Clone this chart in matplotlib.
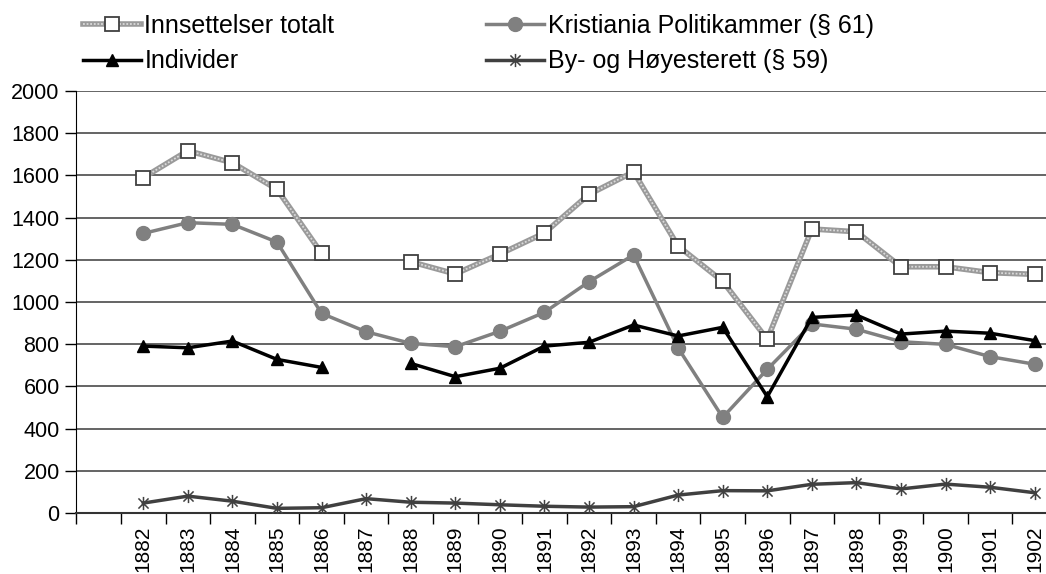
import matplotlib.pyplot as plt
import numpy as np
from matplotlib.path import Path
from matplotlib.legend_handler import HandlerTuple

plt.rcParams['font.family'] = ['Liberation Sans', 'DejaVu Sans']

years = [str(y) for y in range(1882, 1903)]
nan = np.nan
totalt = [1589, 1717, 1660, 1534, 1231, nan, 1191, 1133, 1227, 1327, 1510,
          1617, 1265, 1098, 823, 1346, 1333, 1167, 1167, 1139, 1131]
politikammer = [1325, 1376, 1368, 1284, 946, 859, 804, 788, 861, 951, 1096,
                1223, 782, 453, 681, 896, 871, 812, 799, 741, 705]
individer = [791, 783, 815, 728, 690, nan, 709, 646, 686, 791, 809,
             891, 839, 880, 551, 927, 938, 848, 862, 852, 817]
hoyesterett = [47, 80, 56, 22, 25, 68, 51, 47, 39, 32, 28,
               30, 85, 106, 105, 136, 144, 114, 137, 122, 96]

labels = ["Innsettelser totalt", "Kristiania Politikammer (§ 61)",
          "Individer", "By- og Høyesterett (§ 59)"]

# asterisk marker: X plus a vertical bar
star = Path([(-1, -1), (1, 1), (-1, 1), (1, -1), (0, -1.3), (0, 1.3)],
            [Path.MOVETO, Path.LINETO, Path.MOVETO, Path.LINETO,
             Path.MOVETO, Path.LINETO])

fig = plt.figure(figsize=(10.46, 5.74), dpi=100)
ax = fig.add_axes([76.4 / 1046, 1 - 513 / 574, 980.6 / 1046, 422 / 574])

x = np.arange(len(years))

# textured grey line for the total: grey band with a dotted light overlay
bg, = ax.plot(x, totalt, color='#9a9a9a', lw=4, zorder=3)
tex, = ax.plot(x, totalt, color='#dadada', lw=1.3, dashes=(1, 1), zorder=3)
fg, = ax.plot(x, totalt, ls='none', marker='s', ms=9.5,
              mfc='white', mec='#404040', mew=1.3, zorder=4)
pk, = ax.plot(x, politikammer, color='#808080', lw=2.5, marker='o', ms=10,
              mfc='#808080', mec='#808080', zorder=3)
ind, = ax.plot(x, individer, color='black', lw=2.5, marker='^', ms=8.5,
               mfc='black', mec='black', zorder=5)
hy, = ax.plot(x, hoyesterett, color='#404040', lw=2.5, marker=star, ms=9.5,
              mfc='none', mec='#404040', mew=1.1, zorder=3)

ax.set_xlim(-1.5, 20.5)
ax.set_ylim(0, 2000)
ax.set_yticks(np.arange(0, 2001, 200))
ax.yaxis.grid(True, color='#3a3a3a', lw=1.1)
ax.set_axisbelow(True)

ax.set_xticks(x)
ax.set_xticklabels(years, rotation=90)
ax.set_xticks(np.arange(-1.5, 20.6, 1), minor=True)
ax.tick_params(axis='x', which='major', length=0, pad=9, labelsize=15)
ax.tick_params(axis='x', which='minor', length=8, width=1, color='black')
ax.tick_params(axis='y', length=8, width=1, labelsize=15.5, pad=4)

for s in ['top', 'right']:
    ax.spines[s].set_visible(False)
ax.spines['left'].set_color('black')
ax.spines['bottom'].set_color('#333333')
ax.spines['bottom'].set_linewidth(1.5)

leg_kw = dict(frameon=False, fontsize=18, handlelength=2.3,
              handletextpad=0.16, labelspacing=0.45, borderpad=0,
              borderaxespad=0, loc='upper left',
              bbox_transform=fig.transFigure)
leg1 = ax.legend([(bg, tex, fg), ind], [labels[0], labels[2]],
                 handler_map={tuple: HandlerTuple(ndivide=1)},
                 bbox_to_anchor=(83 / 1046, 1 - 14 / 574), **leg_kw)
ax.add_artist(leg1)
ax.legend([pk, hy], [labels[1], labels[3]],
          bbox_to_anchor=(486 / 1046, 1 - 14 / 574), **leg_kw)

fig.savefig('out.png', dpi=100)
